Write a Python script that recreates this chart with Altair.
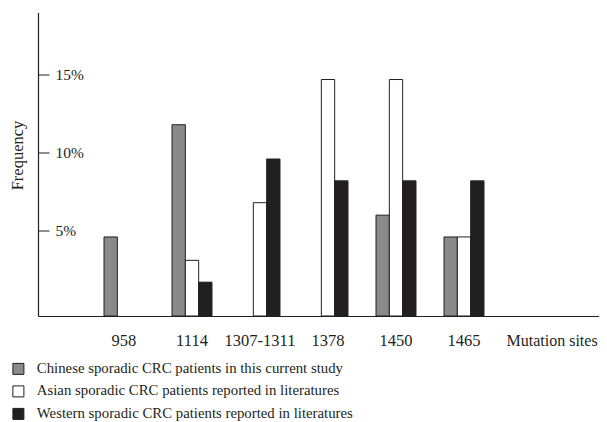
import altair as alt
import pandas as pd

sites = ["958", "1114", "1307-1311", "1378", "1450", "1465"]
series_names = [
    "Chinese sporadic CRC patients in this current study",
    "Asian sporadic CRC patients reported in literatures",
    "Western sporadic CRC patients reported in literatures",
]
chinese = [4.6, 11.8, None, None, 6.0, 4.6]
asian = [None, 3.1, 6.8, 14.7, 14.7, 4.6]
western = [None, 1.7, 9.6, 8.2, 8.2, 8.2]
y_ticks = [5, 10, 15]
colors = ["#8a8a8a", "#ffffff", "#231f20"]

rows = []
for name, vals in zip(series_names, [chinese, asian, western]):
    for s, v in zip(sites, vals):
        if v is not None:
            rows.append({"site": s, "series": name, "value": v})
df = pd.DataFrame(rows)

FONT = "Liberation Serif"
INK = "#231f20"
W, H = 561, 303.5
YMIN = -0.47
x_domain = sites + ["_pad"]  # empty slot after the last site (space before the axis title)

chart = alt.Chart(df).mark_bar(stroke=INK, strokeWidth=1, opacity=1).encode(
    x=alt.X(
        "site:N",
        sort=sites,
        scale=alt.Scale(domain=x_domain, paddingInner=0.412, paddingOuter=0.831, align=0.584),
        axis=alt.Axis(
            title="Mutation sites",
            titleX=468, titleY=29, titleAlign="left", titleBaseline="alphabetic",
            titleFont=FONT, titleFontSize=16, titleFontWeight="normal", titleColor=INK,
            labelExpr="datum.value == '_pad' ? '' : datum.value",
            labelAngle=0, labelFont=FONT, labelFontSize=16.5, labelColor=INK,
            labelBaseline="alphabetic", labelPadding=29,
            ticks=False, tickSize=0, domainColor=INK, domainWidth=1.2, grid=False,
        ),
    ),
    xOffset=alt.XOffset("series:N", sort=series_names, scale=alt.Scale(domain=series_names)),
    y=alt.Y(
        "value:Q",
        scale=alt.Scale(domain=[YMIN, 19], nice=False, zero=False),
        axis=alt.Axis(
            orient="right", offset=-W, values=y_ticks, labelExpr="datum.value + '%'",
            title="Frequency", titleX=-20.8, titleY=142.5, titleAngle=270,
            titleAlign="center", titleBaseline="middle",
            titleFont=FONT, titleFontSize=16.5, titleFontWeight="normal", titleColor=INK,
            labelFont=FONT, labelFontSize=15.5, labelColor=INK, labelPadding=6,
            labelAlign="left", labelBaseline="middle",
            tickSize=11, tickColor=INK, domainColor=INK, domainWidth=1.2, grid=False,
        ),
    ),
    y2=alt.datum(YMIN),
    color=alt.Color(
        "series:N",
        sort=series_names,
        scale=alt.Scale(domain=series_names, range=colors),
        legend=alt.Legend(
            title=None, orient="none", legendX=-27, legendY=349, direction="vertical",
            symbolType="square", symbolSize=121, symbolStrokeColor=INK, symbolStrokeWidth=1,
            symbolOpacity=1, labelFont=FONT, labelFontSize=14.8, labelColor=INK,
            labelOffset=11, rowPadding=6.5, padding=0, labelLimit=0,
        ),
    ),
).properties(
    width=W,
    height=H,
    autosize=alt.AutoSizeParams(type="none"),
    padding={"left": 30, "top": 4.5, "right": 0, "bottom": 110},
).configure_view(stroke=None)

chart.save("out.html", embed_options={"renderer": "svg", "actions": False})
